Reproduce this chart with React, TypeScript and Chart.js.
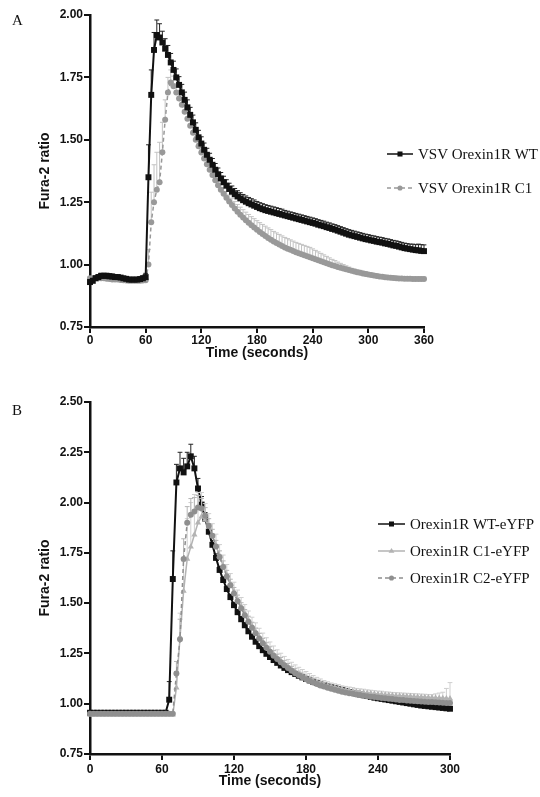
import React, { useEffect, useRef } from "react";
import { Chart, registerables } from "chart.js";

Chart.register(...registerables);

// ---------------- data ----------------
const SAMPLE_INTERVAL_S = 3;
const X_TICK_STEP = 60;
const Y_TICK_STEP = 0.25;

// Panel A
const panelAXMax = 360;
const panelAYMin = 0.75;
const panelAYMax = 2.0;
const panelALabels = ["VSV Orexin1R WT", "VSV Orexin1R C1"];

const panelA_WT = [
  0.930, 0.935, 0.945, 0.950, 0.955, 0.955, 0.955, 0.953, 0.952, 0.950,
  0.950, 0.948, 0.945, 0.943, 0.940, 0.940, 0.940, 0.940, 0.942, 0.945,
  0.950, 1.350, 1.680, 1.860, 1.920, 1.910, 1.890, 1.865, 1.840, 1.810,
  1.780, 1.750, 1.720, 1.690, 1.660, 1.630, 1.600, 1.570, 1.540, 1.510,
  1.485, 1.460, 1.440, 1.420, 1.400, 1.380, 1.362, 1.345, 1.330, 1.316,
  1.303, 1.292, 1.282, 1.273, 1.265, 1.258, 1.252, 1.246, 1.241, 1.236,
  1.231, 1.226, 1.222, 1.218, 1.215, 1.212, 1.209, 1.206, 1.203, 1.200,
  1.197, 1.194, 1.191, 1.188, 1.185, 1.182, 1.179, 1.176, 1.173, 1.170,
  1.167, 1.164, 1.160, 1.157, 1.154, 1.150, 1.147, 1.143, 1.140, 1.136,
  1.132, 1.128, 1.124, 1.120, 1.117, 1.114, 1.111, 1.108, 1.105, 1.102,
  1.100, 1.097, 1.095, 1.092, 1.090, 1.088, 1.085, 1.083, 1.080, 1.077,
  1.075, 1.072, 1.069, 1.066, 1.064, 1.062, 1.060, 1.058, 1.057, 1.055,
  1.054,
];
const panelA_WT_SEM = [
  0.010, 0.010, 0.010, 0.010, 0.010, 0.010, 0.010, 0.010, 0.010, 0.010,
  0.008, 0.008, 0.008, 0.008, 0.008, 0.008, 0.008, 0.008, 0.008, 0.010,
  0.015, 0.130, 0.100, 0.070, 0.060, 0.055, 0.045, 0.040, 0.038, 0.036,
  0.035, 0.034, 0.033, 0.032, 0.031, 0.030, 0.030, 0.029, 0.028, 0.028,
  0.027, 0.027, 0.026, 0.026, 0.025, 0.025, 0.025, 0.024, 0.024, 0.024,
  0.023, 0.023, 0.023, 0.023, 0.023, 0.023, 0.023, 0.023, 0.023, 0.023,
  0.022, 0.022, 0.022, 0.022, 0.022, 0.022, 0.022, 0.022, 0.022, 0.022,
  0.020, 0.020, 0.020, 0.020, 0.020, 0.020, 0.020, 0.020, 0.020, 0.020,
  0.020, 0.020, 0.020, 0.020, 0.020, 0.020, 0.020, 0.020, 0.020, 0.020,
  0.020, 0.020, 0.020, 0.020, 0.020, 0.020, 0.020, 0.020, 0.020, 0.020,
  0.020, 0.020, 0.020, 0.020, 0.020, 0.020, 0.020, 0.020, 0.020, 0.020,
  0.020, 0.020, 0.020, 0.020, 0.020, 0.020, 0.022, 0.022, 0.025, 0.025,
  0.025,
];
const panelA_C1 = [
  0.945, 0.945, 0.945, 0.945, 0.945, 0.945, 0.943, 0.942, 0.940, 0.940,
  0.940, 0.938, 0.937, 0.936, 0.935, 0.935, 0.935, 0.935, 0.935, 0.936,
  0.937, 1.000, 1.170, 1.250, 1.300, 1.330, 1.450, 1.580, 1.690, 1.730,
  1.715, 1.690, 1.665, 1.640, 1.612, 1.584, 1.556, 1.528, 1.500, 1.474,
  1.449, 1.425, 1.402, 1.380, 1.359, 1.338, 1.318, 1.300, 1.284, 1.268,
  1.253, 1.239, 1.225, 1.212, 1.200, 1.189, 1.178, 1.168, 1.158, 1.149,
  1.140, 1.131, 1.123, 1.115, 1.107, 1.100, 1.093, 1.087, 1.081, 1.075,
  1.069, 1.064, 1.059, 1.054, 1.049, 1.045, 1.041, 1.037, 1.033, 1.029,
  1.025, 1.021, 1.017, 1.013, 1.009, 1.005, 1.001, 0.997, 0.994, 0.990,
  0.987, 0.984, 0.981, 0.978, 0.975, 0.972, 0.969, 0.967, 0.964, 0.962,
  0.960, 0.958, 0.956, 0.954, 0.952, 0.951, 0.949, 0.948, 0.947, 0.946,
  0.945, 0.944, 0.944, 0.943, 0.943, 0.943, 0.942, 0.942, 0.942, 0.942,
  0.942,
];
const panelA_C1_SEM = [
  0.006, 0.006, 0.006, 0.006, 0.006, 0.006, 0.006, 0.006, 0.006, 0.006,
  0.006, 0.006, 0.006, 0.006, 0.006, 0.006, 0.006, 0.006, 0.006, 0.006,
  0.006, 0.060, 0.120, 0.150, 0.150, 0.160, 0.120, 0.080, 0.060, 0.050,
  0.040, 0.035, 0.032, 0.030, 0.028, 0.027, 0.026, 0.025, 0.025, 0.025,
  0.025, 0.025, 0.025, 0.025, 0.025, 0.025, 0.025, 0.025, 0.025, 0.025,
  0.026, 0.027, 0.028, 0.029, 0.030, 0.031, 0.032, 0.033, 0.034, 0.035,
  0.036, 0.037, 0.038, 0.039, 0.040, 0.040, 0.040, 0.040, 0.040, 0.040,
  0.040, 0.040, 0.040, 0.040, 0.040, 0.040, 0.040, 0.040, 0.040, 0.040,
  0.038, 0.036, 0.034, 0.032, 0.030, 0.028, 0.026, 0.024, 0.022, 0.020,
  0.018, 0.016, 0.014, 0.012, 0.010, 0.010, 0.010, 0.010, 0.010, 0.010,
  0.008, 0.008, 0.008, 0.008, 0.008, 0.008, 0.008, 0.008, 0.008, 0.008,
  0.008, 0.008, 0.008, 0.008, 0.008, 0.008, 0.008, 0.008, 0.008, 0.008,
  0.008,
];

// Panel B
const panelBXMax = 300;
const panelBYMin = 0.75;
const panelBYMax = 2.5;
const panelBLabels = ["Orexin1R WT-eYFP", "Orexin1R C1-eYFP", "Orexin1R C2-eYFP"];

const panelB_WT = [
  0.955, 0.955, 0.955, 0.955, 0.955, 0.955, 0.955, 0.955, 0.955, 0.955,
  0.955, 0.955, 0.955, 0.955, 0.955, 0.955, 0.955, 0.955, 0.955, 0.955,
  0.955, 0.955, 1.020, 1.620, 2.100, 2.170, 2.150, 2.180, 2.230, 2.170,
  2.070, 1.990, 1.920, 1.855, 1.790, 1.725, 1.665, 1.615, 1.570, 1.530,
  1.490, 1.455, 1.420, 1.390, 1.360, 1.333, 1.308, 1.286, 1.266, 1.248,
  1.232, 1.217, 1.203, 1.190, 1.178, 1.167, 1.157, 1.148, 1.139, 1.131,
  1.123, 1.116, 1.109, 1.103, 1.097, 1.092, 1.087, 1.082, 1.077, 1.072,
  1.067, 1.062, 1.058, 1.054, 1.050, 1.046, 1.042, 1.038, 1.034, 1.030,
  1.027, 1.024, 1.021, 1.018, 1.015, 1.012, 1.009, 1.006, 1.003, 1.000,
  0.997, 0.994, 0.991, 0.989, 0.987, 0.985, 0.983, 0.981, 0.979, 0.977,
  0.975,
];
const panelB_WT_SEM = [
  0.006, 0.006, 0.006, 0.006, 0.006, 0.006, 0.006, 0.006, 0.006, 0.006,
  0.006, 0.006, 0.006, 0.006, 0.006, 0.006, 0.006, 0.006, 0.006, 0.006,
  0.006, 0.006, 0.090, 0.140, 0.090, 0.080, 0.070, 0.070, 0.060, 0.060,
  0.050, 0.040, 0.030, 0.025, 0.022, 0.020, 0.018, 0.016, 0.015, 0.014,
  0.012, 0.012, 0.012, 0.012, 0.012, 0.012, 0.012, 0.012, 0.012, 0.012,
  0.011, 0.011, 0.011, 0.011, 0.011, 0.011, 0.011, 0.011, 0.011, 0.011,
  0.010, 0.010, 0.010, 0.010, 0.010, 0.010, 0.010, 0.010, 0.010, 0.010,
  0.010, 0.010, 0.010, 0.010, 0.010, 0.010, 0.010, 0.010, 0.010, 0.010,
  0.010, 0.010, 0.010, 0.010, 0.010, 0.010, 0.010, 0.010, 0.010, 0.010,
  0.010, 0.010, 0.010, 0.010, 0.010, 0.010, 0.010, 0.010, 0.010, 0.010,
  0.010,
];
const panelB_C1 = [
  0.945, 0.945, 0.945, 0.945, 0.945, 0.945, 0.945, 0.945, 0.945, 0.945,
  0.945, 0.945, 0.945, 0.945, 0.945, 0.945, 0.945, 0.945, 0.945, 0.945,
  0.945, 0.945, 0.945, 0.945, 1.080, 1.330, 1.560, 1.720, 1.780, 1.840,
  1.900, 1.930, 1.915, 1.880, 1.835, 1.785, 1.735, 1.685, 1.640, 1.597,
  1.556, 1.518, 1.482, 1.448, 1.416, 1.386, 1.358, 1.332, 1.308, 1.286,
  1.265, 1.246, 1.228, 1.212, 1.197, 1.183, 1.170, 1.158, 1.147, 1.137,
  1.128, 1.120, 1.112, 1.105, 1.099, 1.093, 1.088, 1.083, 1.079, 1.075,
  1.071, 1.068, 1.065, 1.062, 1.059, 1.057, 1.055, 1.053, 1.051, 1.049,
  1.047, 1.046, 1.044, 1.043, 1.041, 1.040, 1.039, 1.038, 1.037, 1.036,
  1.035, 1.034, 1.033, 1.032, 1.031, 1.030, 1.029, 1.028, 1.027, 1.026,
  1.025,
];
const panelB_C1_SEM = [
  0.005, 0.005, 0.005, 0.005, 0.005, 0.005, 0.005, 0.005, 0.005, 0.005,
  0.005, 0.005, 0.005, 0.005, 0.005, 0.005, 0.005, 0.005, 0.005, 0.005,
  0.005, 0.005, 0.005, 0.005, 0.080, 0.120, 0.150, 0.200, 0.220, 0.200,
  0.150, 0.120, 0.080, 0.065, 0.060, 0.058, 0.056, 0.054, 0.052, 0.050,
  0.048, 0.047, 0.046, 0.045, 0.045, 0.044, 0.044, 0.043, 0.043, 0.042,
  0.042, 0.041, 0.040, 0.039, 0.038, 0.037, 0.036, 0.035, 0.034, 0.033,
  0.032, 0.030, 0.028, 0.026, 0.024, 0.022, 0.021, 0.020, 0.020, 0.020,
  0.018, 0.018, 0.018, 0.018, 0.017, 0.017, 0.017, 0.016, 0.016, 0.016,
  0.016, 0.016, 0.015, 0.015, 0.015, 0.015, 0.015, 0.015, 0.015, 0.015,
  0.015, 0.015, 0.015, 0.015, 0.015, 0.015, 0.020, 0.025, 0.030, 0.050,
  0.080,
];
const panelB_C2 = [
  0.950, 0.950, 0.950, 0.950, 0.950, 0.950, 0.950, 0.950, 0.950, 0.950,
  0.950, 0.950, 0.950, 0.950, 0.950, 0.950, 0.950, 0.950, 0.950, 0.950,
  0.950, 0.950, 0.950, 0.950, 1.150, 1.320, 1.720, 1.900, 1.940, 1.955,
  1.975, 1.970, 1.935, 1.885, 1.835, 1.782, 1.730, 1.680, 1.633, 1.589,
  1.548, 1.510, 1.474, 1.440, 1.408, 1.378, 1.350, 1.324, 1.300, 1.278,
  1.258, 1.239, 1.222, 1.206, 1.191, 1.177, 1.164, 1.152, 1.141, 1.131,
  1.122, 1.113, 1.105, 1.098, 1.091, 1.085, 1.079, 1.074, 1.069, 1.064,
  1.060, 1.056, 1.052, 1.049, 1.046, 1.043, 1.040, 1.037, 1.035, 1.033,
  1.031, 1.029, 1.027, 1.025, 1.023, 1.021, 1.019, 1.018, 1.016, 1.015,
  1.013, 1.012, 1.011, 1.010, 1.009, 1.008, 1.007, 1.006, 1.005, 1.004,
  1.003,
];
const panelB_C2_SEM = [
  0.005, 0.005, 0.005, 0.005, 0.005, 0.005, 0.005, 0.005, 0.005, 0.005,
  0.005, 0.005, 0.005, 0.005, 0.005, 0.005, 0.005, 0.005, 0.005, 0.005,
  0.005, 0.005, 0.005, 0.005, 0.060, 0.100, 0.100, 0.080, 0.080, 0.070,
  0.060, 0.050, 0.040, 0.035, 0.032, 0.030, 0.030, 0.030, 0.030, 0.030,
  0.030, 0.030, 0.028, 0.028, 0.027, 0.027, 0.026, 0.026, 0.025, 0.025,
  0.025, 0.025, 0.024, 0.024, 0.023, 0.023, 0.022, 0.022, 0.021, 0.021,
  0.020, 0.020, 0.020, 0.020, 0.020, 0.020, 0.019, 0.018, 0.017, 0.016,
  0.015, 0.015, 0.015, 0.015, 0.015, 0.015, 0.015, 0.015, 0.015, 0.015,
  0.015, 0.015, 0.015, 0.015, 0.015, 0.015, 0.015, 0.015, 0.015, 0.015,
  0.015, 0.015, 0.015, 0.015, 0.015, 0.015, 0.015, 0.015, 0.015, 0.015,
  0.015,
];

// ---------------- styling / helpers ----------------
const SANS = '"Liberation Sans", Arial, sans-serif';
const SERIF = '"Liberation Serif", "Times New Roman", serif';
const INK = "#111111";

const toPoints = (values: number[]) =>
  values.map((y, i) => ({ x: i * SAMPLE_INTERVAL_S, y }));

function drawMarker(ctx: CanvasRenderingContext2D, style: string, x: number, y: number, r: number, color: string) {
  ctx.fillStyle = color;
  ctx.beginPath();
  if (style === "rect") {
    const s = r * Math.SQRT1_2;
    ctx.rect(x - s, y - s, 2 * s, 2 * s);
  } else if (style === "triangle") {
    ctx.moveTo(x, y - r);
    ctx.lineTo(x + r * 0.95, y + r * 0.6);
    ctx.lineTo(x - r * 0.95, y + r * 0.6);
    ctx.closePath();
  } else {
    ctx.arc(x, y, r, 0, Math.PI * 2);
  }
  ctx.fill();
}

const errorBarPlugin = {
  id: "semBars",
  beforeDatasetDraw(chart: any, args: any) {
    const ds = chart.data.datasets[args.index];
    const err: number[] | undefined = ds.sem;
    if (!err) return;
    const yScale = chart.scales.y;
    const ctx: CanvasRenderingContext2D = chart.ctx;
    ctx.save();
    ctx.strokeStyle = ds.semColor;
    ctx.lineWidth = 1;
    ctx.beginPath();
    args.meta.data.forEach((pt: any, i: number) => {
      const v = ds.data[i].y;
      const top = yScale.getPixelForValue(v + err[i]);
      ctx.moveTo(pt.x, pt.y);
      ctx.lineTo(pt.x, top);
      ctx.moveTo(pt.x - 2.4, top);
      ctx.lineTo(pt.x + 2.4, top);
    });
    ctx.stroke();
    ctx.restore();
  },
};

const decorPlugin = {
  id: "panelDecor",
  afterDraw(chart: any, _args: any, opts: any) {
    const ctx: CanvasRenderingContext2D = chart.ctx;
    ctx.save();
    ctx.fillStyle = INK;
    ctx.font = `15px ${SERIF}`;
    ctx.textBaseline = "alphabetic";
    ctx.textAlign = "left";
    ctx.fillText(opts.letter, opts.letterX, opts.letterY);

    const lg = opts.legend;
    chart.data.datasets.forEach((ds: any, i: number) => {
      const y = lg.rows[i];
      ctx.strokeStyle = ds.borderColor;
      ctx.lineWidth = 1.5;
      ctx.setLineDash(ds.borderDash || []);
      ctx.beginPath();
      ctx.moveTo(lg.x1, y);
      ctx.lineTo(lg.x2, y);
      ctx.stroke();
      ctx.setLineDash([]);
      drawMarker(ctx, ds.pointStyle, (lg.x1 + lg.x2) / 2, y, ds.pointRadius * 0.85, ds.pointBackgroundColor);
      ctx.fillStyle = INK;
      ctx.font = `15px ${SERIF}`;
      ctx.textBaseline = "middle";
      ctx.fillText(ds.label, lg.tx, y + 1);
    });
    ctx.restore();
  },
};

function series(label: string, values: number[], sem: number[], color: string, semColor: string, pointStyle: string, radius: number, lineWidth: number, dash: number[], order: number) {
  return {
    label,
    data: toPoints(values),
    sem,
    semColor,
    borderColor: color,
    backgroundColor: color,
    pointBackgroundColor: color,
    pointBorderColor: color,
    pointBorderWidth: 0,
    pointStyle,
    pointRadius: radius,
    borderWidth: lineWidth,
    borderDash: dash,
    tension: 0,
    clip: 6,
    order,
  };
}

function scalesFor(xMax: number, yMin: number, yMax: number, xTickPad: number, xTitlePadBottom: number) {
  const tickFont = { family: SANS, size: 12, weight: "bold" as const };
  const titleFont = { family: SANS, size: 14, weight: "bold" as const };
  return {
    x: {
      type: "linear" as const,
      min: 0,
      max: xMax,
      afterFit: (s: any) => { s.height = 36; },
      ticks: { stepSize: X_TICK_STEP, font: tickFont, color: INK, padding: xTickPad, maxRotation: 0, autoSkip: false },
      grid: { drawOnChartArea: false, drawTicks: true, tickLength: 6, color: INK, lineWidth: 2 },
      border: { display: true, color: INK, width: 2.5 },
      title: { display: true, text: "Time (seconds)", font: titleFont, color: INK, padding: { top: 0, bottom: xTitlePadBottom } },
    },
    y: {
      type: "linear" as const,
      min: yMin,
      max: yMax,
      afterFit: (s: any) => { s.width = 90; },
      ticks: { stepSize: Y_TICK_STEP, font: tickFont, color: INK, padding: 1, callback: (v: any) => Number(v).toFixed(2) },
      grid: { drawOnChartArea: false, drawTicks: true, tickLength: 6, color: INK, lineWidth: 2 },
      border: { display: true, color: INK, width: 2.5 },
      title: { display: true, text: "Fura-2 ratio", font: titleFont, color: INK, padding: { top: 36.6, bottom: 0 } },
    },
  };
}

function configA(): any {
  return {
    type: "line",
    data: {
      datasets: [
        series(panelALabels[0], panelA_WT, panelA_WT_SEM, "#111111", "#222222", "rect", 4.2, 2, [], 0),
        series(panelALabels[1], panelA_C1, panelA_C1_SEM, "#999999", "#c2c2c2", "circle", 3.0, 1.5, [4, 3], 1),
      ],
    },
    options: {
      animation: false,
      responsive: false,
      devicePixelRatio: 1,
      layout: { padding: { left: 0, right: 116, top: 15, bottom: 27 } },
      plugins: {
        legend: { display: false },
        tooltip: { enabled: false },
        panelDecor: {
          letter: "A", letterX: 12, letterY: 25,
          legend: { x1: 387, x2: 413, tx: 418, rows: [154, 188] },
        },
      },
      scales: scalesFor(panelAXMax, panelAYMin, panelAYMax, 0, 1),
    },
    plugins: [errorBarPlugin, decorPlugin],
  };
}

function configB(): any {
  return {
    type: "line",
    data: {
      datasets: [
        series(panelBLabels[0], panelB_WT, panelB_WT_SEM, "#111111", "#222222", "rect", 4.2, 2, [], 2),
        series(panelBLabels[1], panelB_C1, panelB_C1_SEM, "#b3b3b3", "#cfcfcf", "triangle", 3.6, 1.5, [], 1),
        series(panelBLabels[2], panelB_C2, panelB_C2_SEM, "#8f8f8f", "#b5b5b5", "circle", 3.0, 1.5, [4, 3], 0),
      ],
    },
    options: {
      animation: false,
      responsive: false,
      devicePixelRatio: 1,
      layout: { padding: { left: 0, right: 90, top: 12, bottom: 7 } },
      plugins: {
        legend: { display: false },
        tooltip: { enabled: false },
        panelDecor: {
          letter: "B", letterX: 12, letterY: 25,
          legend: { x1: 378, x2: 405, tx: 410, rows: [134, 161, 188] },
        },
      },
      scales: scalesFor(panelBXMax, panelBYMin, panelBYMax, 2, 0.6),
    },
    plugins: [errorBarPlugin, decorPlugin],
  };
}

function Panel({ makeConfig, top, height }: { makeConfig: () => any; top: number; height: number }) {
  const ref = useRef<HTMLCanvasElement>(null);
  useEffect(() => {
    const chart = new Chart(ref.current as HTMLCanvasElement, makeConfig());
    return () => chart.destroy();
  }, [makeConfig]);
  return (
    <canvas
      ref={ref}
      width={540}
      height={height}
      style={{ position: "absolute", left: 0, top, width: 540, height, display: "block" }}
    />
  );
}

export default function App() {
  return (
    <div style={{ position: "absolute", left: 0, top: 0, width: 540, height: 797, background: "#ffffff" }}>
      <Panel makeConfig={configA} top={0} height={390} />
      <Panel makeConfig={configB} top={390} height={407} />
    </div>
  );
}
